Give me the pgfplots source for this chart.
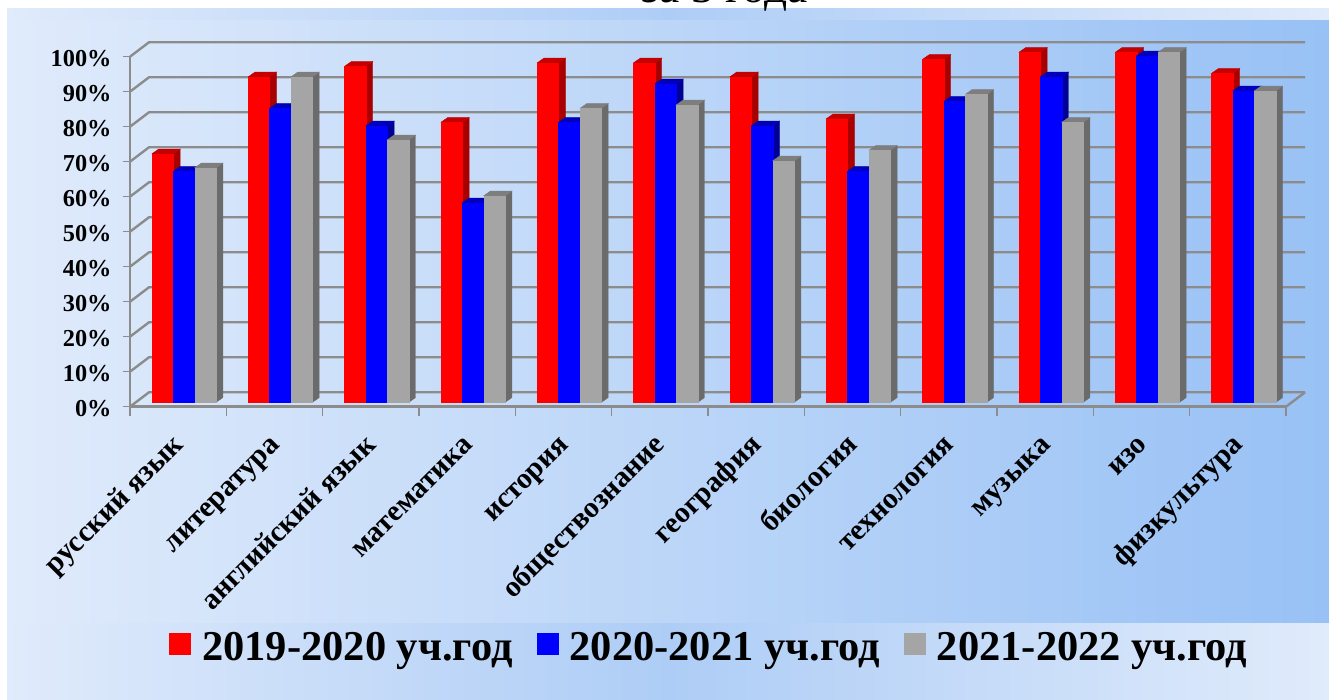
\documentclass[border=0pt]{standalone}
\usepackage{pgfplots}
\pgfplotsset{compat=1.18}
\usepackage{pgfplotstable}
\usepackage{fontspec}
\setmainfont{Liberation Serif}

\definecolor{bglight}{HTML}{E0EBFB}
\definecolor{bgmid}{HTML}{AECDF6}
\definecolor{bgright}{HTML}{98C1F5}
\definecolor{gridgray}{HTML}{8C8C8C}
\definecolor{barred}{HTML}{FF0000}
\definecolor{redtop}{HTML}{C40000}
\definecolor{redside}{HTML}{A80000}
\definecolor{barblue}{HTML}{0000FF}
\definecolor{bluetop}{HTML}{0000BC}
\definecolor{blueside}{HTML}{000094}
\definecolor{bargray}{HTML}{A5A5A5}
\definecolor{graytop}{HTML}{7E7E7E}
\definecolor{grayside}{HTML}{6B6B6B}

\pgfplotstableread{
a   b   c
71  66  67
93  84  93
96  79  75
80  57  59
97  80  84
97  91  85
93  79  69
81  66  72
98  86  88
100 93  80
100 99  100
94  89  89
}\marks

\pgfdeclareplotmark{nomark}{}

% a whole bar, drawn from the top right corner of its front face
\pgfplotsset{
  bar3d/.style n args={3}{
    forget plot, only marks, mark=nomark, scatter, yshift=4.4pt,
    visualization depends on={rawy \as \barv},
    scatter/@pre marker code/.code={
      \pgfmathsetlengthmacro\hh{3.5*\barv}
      \fill[#3] (0pt,0pt) -- (6.7pt,4.7pt) -- (6.7pt,4.7pt-\hh) -- (0pt,-\hh) -- cycle;
      \fill[#2] (-21.4pt,0pt) -- (-14.7pt,4.7pt) -- (6.7pt,4.7pt) -- (0pt,0pt) -- cycle;
      \fill[#1] (-21.4pt,0pt) rectangle (0pt,-\hh);
    },
    scatter/@post marker code/.code={},
  },
}

\begin{document}
\begin{tikzpicture}[x=1pt,y=1pt]
\path[use as bounding box, clip] (0,0) rectangle (1329,700);
\fill[white] (0,0) rectangle (1329,700);
\shade[left color=bglight, right color=bglight, middle color=bgmid] (7,0) rectangle (1329,691);
\shade[left color=bglight, right color=bgright] (7,77) rectangle (1329,679);
\node[anchor=base, font=\fontsize{45.5}{45.5}\selectfont] at (724.5,697) {за 3 года};
\begin{axis}[
  at={(130pt,293.3pt)}, anchor=south west,
  scale only axis, width=1156pt, height=350pt,
  xmin=0, xmax=12, ymin=0, ymax=100,
  clip=false,
  axis x line*=bottom, axis y line*=left,
  axis line style={gridgray, line width=2.5pt, -},
  tick align=outside,
  major tick length=7pt,
  minor tick length=9pt,
  every tick/.style={gridgray, line width=1.4pt},
  ytick={0,10,...,100},
  yticklabel={\pgfmathprintnumber{\tick}\%},
  xtick={0.5,1.5,...,11.5},
  minor xtick={0,1,...,12},
  major x tick style={draw=none},
  xticklabels={русский язык,литература,английский язык,математика,история,обществознание,география,биология,технология,музыка,изо,физкультура},
  /pgf/number format/assume math mode=true,
  yticklabel style={font=\bfseries\fontsize{24.3}{24.3}\selectfont, xshift=-8pt, yshift=-1.5pt},
  xticklabel style={font=\bfseries\fontsize{29.5}{29.5}\selectfont, rotate=45, anchor=north east, text height=14pt, text depth=6pt, xshift=-15pt, yshift=-10pt},
  legend style={at={(36pt,-240pt)}, anchor=west, draw=none, fill=none, legend columns=3,
    font=\bfseries\fontsize{42.5}{42.5}\selectfont,
    /tikz/every odd column/.append style={column sep=9pt},
    /tikz/every even column/.append style={column sep=22pt}},
  legend image code/.code={\fill[#1, draw=none] (0pt,-8pt) rectangle (22pt,14pt);},
]
\pgfplotsinvokeforeach{0,10,...,100}{
  \draw[gridgray, line width=2.4pt] (axis cs:0,#1) -- ++(19pt,14.4pt) -- ++(1156pt,0pt);
}
\draw[gridgray, line width=2.4pt] (axis cs:12,0) -- ++(19pt,14.4pt);

\addplot[bar3d={barred}{redtop}{redside}] table[x expr=\coordindex+0.45, y=a] {\marks};
\addplot[bar3d={barblue}{bluetop}{blueside}] table[x expr=\coordindex+0.672, y=b] {\marks};
\addplot[bar3d={bargray}{graytop}{grayside}] table[x expr=\coordindex+0.894, y=c] {\marks};
\addlegendimage{barred}
\addlegendentry{2019-2020 уч.год}
\addlegendimage{barblue}
\addlegendentry{2020-2021 уч.год}
\addlegendimage{bargray}
\addlegendentry{2021-2022 уч.год}
\end{axis}
\end{tikzpicture}
\end{document}
